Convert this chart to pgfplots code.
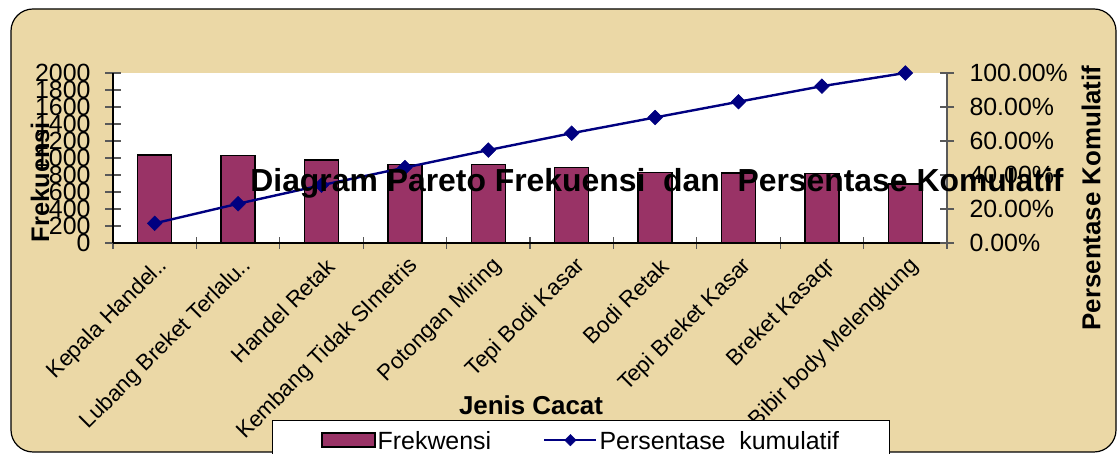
\documentclass[border=0pt]{standalone}
\usepackage{fontspec}
\setmainfont{Liberation Sans}
\usepackage{pgfplots}
\pgfplotsset{compat=1.18}
\definecolor{barcol}{HTML}{993366}
\definecolor{linecol}{HTML}{000080}
\definecolor{papyrus}{HTML}{EBD8A6}
\newcommand{\fs}[1]{\fontsize{#1}{#1}\selectfont}
\pgfplotsset{
 barleg/.style={legend image code/.code={\draw[fill=barcol,draw=black,line width=2bp] (0bp,-6bp) rectangle (53bp,8bp);}},
 lineleg/.style={legend image code/.code={\draw[##1,mark repeat=2,mark phase=2,mark size=4bp] plot coordinates {(0bp,1bp) (26bp,1bp) (52bp,1bp)};}},
}
\begin{document}
\begin{tikzpicture}[x=1bp,y=1bp]
\path[use as bounding box] (0,0) rectangle (1119,454);
\fill[white] (0,0) rectangle (1119,454);
\draw[fill=papyrus,draw=black,line width=1.2bp,rounded corners=22bp] (11,2) rectangle (1116,445);
\begin{axis}[
  at={(113bp,211bp)}, anchor=south west,
  scale only axis, width=834bp, height=170bp,
  axis background/.style={fill=white},
  xmin=-0.5, xmax=9.5, ymin=0, ymax=2000,
  axis x line*=bottom, axis y line*=left,
  axis line style={black,line width=1.3bp},
  ytick distance=200,
  xtick={0,...,9},
  xticklabels={Kepala Handel..,Lubang Breket Terlalu..,Handel Retak,Kembang Tidak SImetris,Potongan Miring,Tepi Bodi Kasar,Bodi Retak,Tepi Breket Kasar,Breket Kasaqr,Bibir body Melengkung},
  minor xtick={-0.5,0.5,...,9.5},
  major x tick style={draw=none},
  minor tick length=12bp, major tick length=16bp,
  tick align=center,
  tick style={gray!70!black,line width=1.2bp},
  /pgf/number format/assume math mode=true,
  /pgf/number format/.cd, 1000 sep={}, /pgfplots/.cd,
  yticklabel style={font=\fs{25}, xshift=-11bp},
  xticklabel style={font=\fs{22.5}, rotate=45, anchor=east, xshift=2bp, yshift=-15bp},
  clip=false,
]
\addplot[ybar, bar width=34bp, fill=barcol, draw=black, line width=1.3bp] coordinates {
(0,1035) (1,1030) (2,976) (3,925) (4,920) (5,890) (6,827) (7,825) (8,820) (9,694)};
\end{axis}
\begin{axis}[
  at={(113bp,211bp)}, anchor=south west,
  scale only axis, width=834bp, height=170bp,
  xmin=-0.5, xmax=9.5, ymin=0, ymax=100,
  axis x line=none, axis y line*=right,
  axis line style={gray!70!black,line width=1.2bp},
  ytick distance=20,
  major tick length=14bp,
  tick align=center,
  tick style={gray!70!black,line width=1.2bp},
  /pgf/number format/assume math mode=true,
  yticklabel={\pgfmathprintnumber[fixed,fixed zerofill,precision=2]{\tick}\%},
  yticklabel style={font=\fs{25}, xshift=12bp},
  clip=false,
  legend columns=2,
  legend style={at={(0.561,-1.041)}, anchor=north, draw=black, fill=white,
    font=\fs{25}, inner xsep=48bp, inner ysep=9bp, line width=0.8bp,
    /tikz/every even column/.append style={column sep=50bp}},
]
\addlegendimage{barleg}
\addlegendentry{Frekwensi}
\addplot[color=linecol, line width=2.4bp, mark=square*, mark size=5.2bp, mark options={fill=linecol,draw=linecol,line width=0.5bp,rotate=45}, lineleg] coordinates {
(0,11.57) (1,23.09) (2,34.01) (3,44.35) (4,54.64) (5,64.59) (6,73.84) (7,83.07) (8,92.24) (9,100)};
\addlegendentry{Persentase\ \ kumulatif}
\end{axis}
\node[font=\bfseries\fs{32}] at (657,271) {Diagram Pareto Frekuensi\ \ dan\ \ Persentase Komulatif};
\node[font=\bfseries\fs{25.5}, rotate=90] at (40,272) {Frekuensi};
\node[font=\bfseries\fs{26}, rotate=90] at (1091,256) {Persentase Komulatif};
\node[font=\bfseries\fs{26}] at (531,49) {Jenis Cacat};
\end{tikzpicture}
\end{document}
